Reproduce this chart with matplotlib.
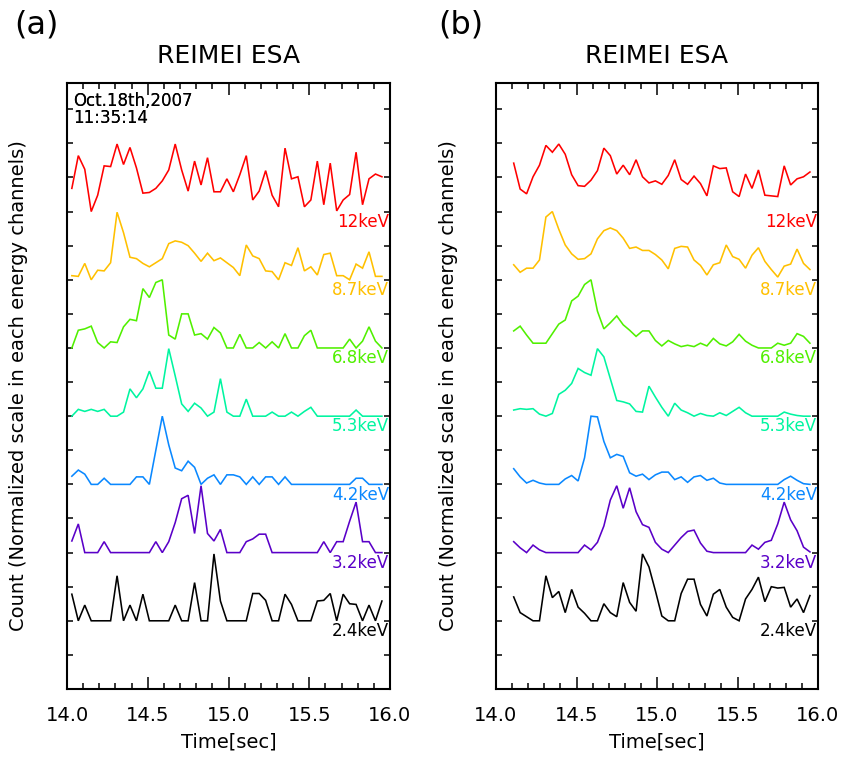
import matplotlib
matplotlib.use("Agg")
import matplotlib.pyplot as plt
from matplotlib.ticker import MultipleLocator

# ---------------- data ----------------
time_a = [14.03, 14.07, 14.11, 14.15, 14.19, 14.23, 14.27, 14.31, 14.35, 14.39,
          14.43, 14.47, 14.51, 14.55, 14.59, 14.63, 14.67, 14.71, 14.75, 14.79,
          14.83, 14.87, 14.91, 14.95, 14.99, 15.03, 15.07, 15.11, 15.15, 15.19,
          15.23, 15.27, 15.31, 15.35, 15.39, 15.43, 15.47, 15.51, 15.55, 15.59,
          15.63, 15.67, 15.71, 15.75, 15.79, 15.83, 15.87, 15.91, 15.95]
time_b = [14.11, 14.15, 14.19, 14.23, 14.27, 14.31, 14.35, 14.39,
          14.43, 14.47, 14.51, 14.55, 14.59, 14.63, 14.67, 14.71, 14.75, 14.79,
          14.83, 14.87, 14.91, 14.95, 14.99, 15.03, 15.07, 15.11, 15.15, 15.19,
          15.23, 15.27, 15.31, 15.35, 15.39, 15.43, 15.47, 15.51, 15.55, 15.59,
          15.63, 15.67, 15.71, 15.75, 15.79, 15.83, 15.87, 15.91, 15.95]

energy_labels = ["12keV", "8.7keV", "6.8keV", "5.3keV", "4.2keV", "3.2keV", "2.4keV"]
channel_offsets = [7, 6, 5, 4, 3, 2, 1]

# panel (a) normalized counts
a_12keV = [0.34, 0.82, 0.62, 0.00, 0.24, 0.67, 0.66, 0.99, 0.69, 0.94,
           0.64, 0.27, 0.28, 0.34, 0.45, 0.61, 0.99, 0.61, 0.30, 0.74,
           0.39, 0.79, 0.29, 0.29, 0.48, 0.29, 0.54, 0.82, 0.17, 0.30,
           0.60, 0.24, 0.07, 0.93, 0.48, 0.51, 0.07, 0.17, 0.74, 0.10,
           0.71, 0.01, 0.17, 0.25, 0.87, 0.10, 0.48, 0.55, 0.51]
a_8_7keV = [0.06, 0.05, 0.24, 0.00, 0.14, 0.13, 0.25, 0.99, 0.69, 0.33,
            0.31, 0.24, 0.19, 0.25, 0.31, 0.53, 0.57, 0.55, 0.50, 0.39,
            0.27, 0.39, 0.28, 0.32, 0.25, 0.18, 0.06, 0.51, 0.35, 0.31,
            0.13, 0.12, 0.00, 0.25, 0.21, 0.47, 0.13, 0.19, 0.07, 0.37,
            0.39, 0.06, 0.06, 0.00, 0.23, 0.17, 0.41, 0.05, 0.05]
a_6_8keV = [0.00, 0.26, 0.28, 0.32, 0.08, 0.00, 0.09, 0.08, 0.31, 0.42,
            0.40, 0.87, 0.74, 0.96, 1.00, 0.19, 0.13, 0.50, 0.50, 0.19,
            0.21, 0.13, 0.30, 0.22, 0.00, 0.00, 0.20, 0.00, 0.00, 0.08,
            0.00, 0.09, 0.00, 0.21, 0.00, 0.00, 0.18, 0.26, 0.00, 0.00,
            0.00, 0.00, 0.00, 0.13, 0.00, 0.10, 0.31, 0.10, 0.00]
a_5_3keV = [0.00, 0.10, 0.07, 0.10, 0.07, 0.10, 0.00, 0.00, 0.06, 0.40,
            0.27, 0.40, 0.66, 0.41, 0.41, 0.99, 0.59, 0.18, 0.07, 0.19,
            0.12, 0.00, 0.06, 0.55, 0.06, 0.00, 0.00, 0.25, 0.00, 0.00,
            0.00, 0.06, 0.00, 0.00, 0.06, 0.00, 0.07, 0.13, 0.00, 0.00,
            0.00, 0.00, 0.00, 0.00, 0.09, 0.00, 0.00, 0.00, 0.00]
a_4_2keV = [0.12, 0.21, 0.15, 0.00, 0.00, 0.09, 0.00, 0.00, 0.00, 0.00,
            0.11, 0.11, 0.00, 0.50, 1.00, 0.58, 0.24, 0.20, 0.34, 0.25,
            0.00, 0.09, 0.14, 0.00, 0.14, 0.14, 0.11, 0.00, 0.11, 0.00,
            0.11, 0.11, 0.00, 0.11, 0.00, 0.00, 0.00, 0.00, 0.00, 0.00,
            0.00, 0.00, 0.00, 0.00, 0.09, 0.09, 0.00, 0.00, 0.00]
a_3_2keV = [0.17, 0.42, 0.00, 0.00, 0.00, 0.16, 0.00, 0.00, 0.00, 0.00,
            0.00, 0.00, 0.00, 0.16, 0.00, 0.16, 0.44, 0.79, 0.84, 0.28,
            0.98, 0.28, 0.17, 0.34, 0.00, 0.00, 0.00, 0.16, 0.20, 0.27,
            0.27, 0.00, 0.00, 0.00, 0.00, 0.00, 0.00, 0.00, 0.00, 0.16,
            0.00, 0.16, 0.16, 0.46, 0.74, 0.16, 0.16, 0.00, 0.00]
a_2_4keV = [0.39, 0.00, 0.23, 0.00, 0.00, 0.00, 0.00, 0.66, 0.00, 0.23,
            0.00, 0.39, 0.00, 0.00, 0.00, 0.00, 0.23, 0.00, 0.00, 0.56,
            0.00, 0.00, 0.98, 0.29, 0.00, 0.00, 0.00, 0.00, 0.40, 0.40,
            0.30, 0.00, 0.00, 0.39, 0.24, 0.00, 0.00, 0.00, 0.29, 0.30,
            0.40, 0.00, 0.39, 0.25, 0.24, 0.00, 0.23, 0.00, 0.29]

# panel (b) normalized counts
b_12keV = [0.71, 0.33, 0.26, 0.51, 0.68, 0.97, 0.87, 0.99, 0.84, 0.54,
           0.38, 0.37, 0.46, 0.60, 0.93, 0.82, 0.55, 0.68, 0.54, 0.76,
           0.51, 0.42, 0.45, 0.40, 0.53, 0.76, 0.47, 0.40, 0.52, 0.41,
           0.23, 0.67, 0.63, 0.64, 0.29, 0.22, 0.55, 0.34, 0.61, 0.24,
           0.23, 0.22, 0.67, 0.39, 0.48, 0.51, 0.58]
b_8_7keV = [0.22, 0.11, 0.17, 0.17, 0.29, 0.92, 1.00, 0.74, 0.51, 0.38,
            0.30, 0.31, 0.38, 0.60, 0.72, 0.76, 0.72, 0.61, 0.46, 0.48,
            0.43, 0.43, 0.37, 0.29, 0.16, 0.46, 0.49, 0.48, 0.29, 0.21,
            0.07, 0.22, 0.25, 0.51, 0.34, 0.30, 0.17, 0.36, 0.47, 0.27,
            0.15, 0.04, 0.20, 0.23, 0.45, 0.24, 0.15]
b_6_8keV = [0.25, 0.32, 0.19, 0.07, 0.07, 0.07, 0.21, 0.35, 0.41, 0.69,
            0.76, 0.93, 1.00, 0.54, 0.28, 0.37, 0.47, 0.34, 0.26, 0.17,
            0.25, 0.25, 0.11, 0.03, 0.11, 0.06, 0.02, 0.04, 0.02, 0.07,
            0.03, 0.14, 0.06, 0.03, 0.09, 0.20, 0.10, 0.04, 0.00, 0.00,
            0.00, 0.07, 0.04, 0.07, 0.21, 0.17, 0.07]
b_5_3keV = [0.09, 0.11, 0.10, 0.11, 0.03, 0.00, 0.04, 0.32, 0.38, 0.48,
            0.70, 0.64, 0.60, 0.99, 0.87, 0.55, 0.23, 0.21, 0.18, 0.07,
            0.06, 0.44, 0.28, 0.13, 0.00, 0.19, 0.09, 0.05, 0.00, 0.04,
            0.01, 0.00, 0.05, 0.01, 0.07, 0.13, 0.05, 0.00, 0.00, 0.00,
            0.00, 0.00, 0.06, 0.03, 0.01, 0.00, 0.00]
b_4_2keV = [0.23, 0.11, 0.02, 0.06, 0.02, 0.00, 0.00, 0.00, 0.08, 0.13,
            0.05, 0.39, 1.00, 0.99, 0.63, 0.39, 0.44, 0.41, 0.17, 0.12,
            0.15, 0.07, 0.14, 0.18, 0.18, 0.07, 0.11, 0.03, 0.11, 0.13,
            0.06, 0.09, 0.02, 0.00, 0.00, 0.00, 0.00, 0.00, 0.00, 0.00,
            0.00, 0.00, 0.07, 0.12, 0.06, 0.01, 0.00]
b_3_2keV = [0.16, 0.07, 0.00, 0.11, 0.04, 0.00, 0.00, 0.00, 0.00, 0.00,
            0.00, 0.11, 0.04, 0.15, 0.39, 0.77, 0.98, 0.65, 0.95, 0.60,
            0.41, 0.37, 0.15, 0.05, 0.00, 0.11, 0.22, 0.31, 0.33, 0.14,
            0.02, 0.00, 0.00, 0.00, 0.00, 0.00, 0.00, 0.11, 0.05, 0.15,
            0.18, 0.42, 0.74, 0.48, 0.32, 0.08, 0.01]
b_2_4keV = [0.35, 0.12, 0.06, 0.00, 0.00, 0.66, 0.34, 0.43, 0.12, 0.46,
            0.20, 0.11, 0.00, 0.00, 0.25, 0.12, 0.06, 0.56, 0.27, 0.14,
            0.98, 0.79, 0.44, 0.07, 0.00, 0.00, 0.40, 0.61, 0.61, 0.24,
            0.07, 0.39, 0.46, 0.20, 0.05, 0.00, 0.32, 0.46, 0.64, 0.28,
            0.50, 0.48, 0.49, 0.20, 0.32, 0.12, 0.37]

panel_a = [a_12keV, a_8_7keV, a_6_8keV, a_5_3keV, a_4_2keV, a_3_2keV, a_2_4keV]
panel_b = [b_12keV, b_8_7keV, b_6_8keV, b_5_3keV, b_4_2keV, b_3_2keV, b_2_4keV]

colors = ["#FF0000", "#FFC000", "#50F000", "#00F5A0", "#0A88FF", "#5A00C8", "#000000"]

plt.rcParams["font.family"] = ["DejaVu Sans"]

W, H = 844, 758
fig = plt.figure(figsize=(W / 100, H / 100), dpi=100)

panels = [
    ("(a)", time_a, panel_a, [67, 83, 390, 689], 36),
    ("(b)", time_b, panel_b, [496, 83, 818, 689], 461),
]

for tag, tt, series, (x0, y0, x1, y1), tagx in panels:
    ax = fig.add_axes([x0 / W, 1 - y1 / H, (x1 - x0) / W, (y1 - y0) / H])
    for vals, off, col, lab in zip(series, channel_offsets, colors, energy_labels):
        ax.plot(tt, [off + v for v in vals], color=col, lw=1.15, solid_joinstyle="miter")
        ax.text(15.995, off - 0.15, lab, color=col, fontsize=12,
                ha="right", va="center")
    ax.set_xlim(14.0, 16.0)
    ax.set_ylim(0, 8.885)
    ax.xaxis.set_minor_locator(MultipleLocator(0.1))
    ax.yaxis.set_major_locator(MultipleLocator(0.5))
    ax.set_xticks([14.0, 14.5, 15.0, 15.5, 16.0])
    ax.set_xticklabels(["14.0", "14.5", "15.0", "15.5", "16.0"])
    ax.tick_params(axis="x", which="major", direction="in", top=True, bottom=True,
                   length=8.5, width=1.1, labelsize=14, pad=12.5)
    ax.tick_params(axis="x", which="minor", direction="in", top=True, bottom=True,
                   length=4, width=1.1)
    ax.tick_params(axis="y", which="major", direction="in", left=True, right=True,
                   length=4.5, width=1.1, labelleft=False)
    for sp in ax.spines.values():
        sp.set_linewidth(1.5)
    ax.text((73 - x0) / (x1 - x0), (y1 - 92) / (y1 - y0), "Oct.18th,2007\n11:35:14",
            transform=ax.transAxes, fontsize=12, ha="left", va="top",
            linespacing=0.95)
    ax.set_xlabel("Time[sec]", fontsize=14, labelpad=5)
    fig.text((x0 + x1) / 2 / W, 1 - 56 / H, "REIMEI ESA", fontsize=18,
             ha="center", va="center")
    fig.text(tagx / W, 1 - 25 / H, tag, fontsize=23, ha="center", va="center")
    fig.text((x0 - 48) / W, 1 - (y0 + y1) / 2 / H,
             "Count (Normalized scale in each energy channels)",
             fontsize=14, rotation=90, ha="center", va="center")

fig.savefig("out.png", dpi=100)
